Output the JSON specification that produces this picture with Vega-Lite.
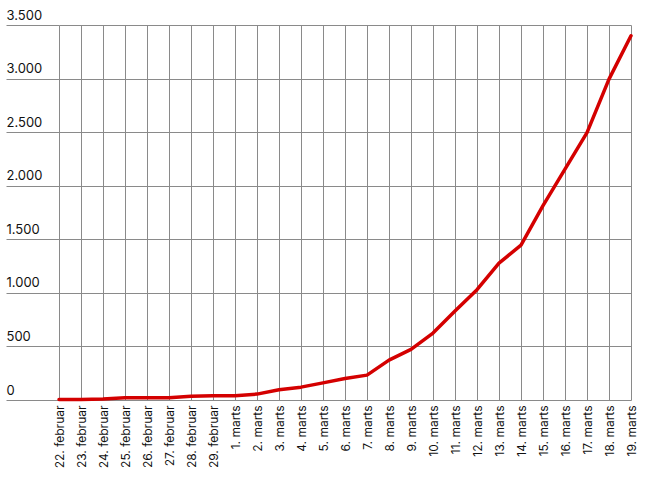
{
  "$schema": "https://vega.github.io/schema/vega-lite/v6.json",
  "width": 572,
  "height": 375,
  "padding": {"top": 9, "left": 5, "right": 5, "bottom": 5},
  "background": "white",
  "config": {
    "view": {"stroke": null},
    "font": "Inter"
  },
  "data": {
    "values": [
      {"dato": "22. februar", "antal": 5},
      {"dato": "23. februar", "antal": 5},
      {"dato": "24. februar", "antal": 10},
      {"dato": "25. februar", "antal": 20},
      {"dato": "26. februar", "antal": 20},
      {"dato": "27. februar", "antal": 20},
      {"dato": "28. februar", "antal": 35},
      {"dato": "29. februar", "antal": 40},
      {"dato": "1. marts", "antal": 40},
      {"dato": "2. marts", "antal": 55},
      {"dato": "3. marts", "antal": 95},
      {"dato": "4. marts", "antal": 120},
      {"dato": "5. marts", "antal": 160},
      {"dato": "6. marts", "antal": 200},
      {"dato": "7. marts", "antal": 232},
      {"dato": "8. marts", "antal": 372},
      {"dato": "9. marts", "antal": 472},
      {"dato": "10. marts", "antal": 625},
      {"dato": "11. marts", "antal": 830},
      {"dato": "12. marts", "antal": 1030},
      {"dato": "13. marts", "antal": 1278},
      {"dato": "14. marts", "antal": 1445},
      {"dato": "15. marts", "antal": 1815},
      {"dato": "16. marts", "antal": 2155},
      {"dato": "17. marts", "antal": 2495},
      {"dato": "18. marts", "antal": 2995},
      {"dato": "19. marts", "antal": 3400}
    ]
  },
  "mark": {"type": "line", "color": "#d40000", "strokeWidth": 3.5, "strokeJoin": "round", "strokeCap": "round"},
  "encoding": {
    "x": {
      "field": "dato",
      "type": "ordinal",
      "sort": null,
      "scale": {"type": "point", "padding": 0},
      "axis": {
        "title": null,
        "grid": true,
        "gridColor": "#8a8a8a",
        "gridOpacity": 1,
        "gridWidth": 1,
        "domain": false,
        "ticks": false,
        "labelAngle": -90,
        "labelAlign": "right",
        "labelBaseline": "middle",
        "labelPadding": 5,
        "labelFontSize": 12,
        "labelColor": "#111111",
        "labelFont": "Inter"
      }
    },
    "y": {
      "field": "antal",
      "type": "quantitative",
      "scale": {"domain": [0, 3500], "nice": false},
      "axis": {
        "title": null,
        "values": [0, 500, 1000, 1500, 2000, 2500, 3000, 3500],
        "grid": true,
        "gridColor": "#8a8a8a",
        "gridOpacity": 1,
        "gridWidth": 1,
        "domain": false,
        "ticks": true,
        "tickSize": 53,
        "tickColor": "#8a8a8a",
        "tickWidth": 1,
        "labelAlign": "left",
        "labelBaseline": "bottom",
        "labelPadding": 0,
        "labelOffset": -3,
        "labelFontSize": 13,
        "labelColor": "#111111",
        "labelFont": "Inter",
        "labelExpr": "replace(format(datum.value, ','), ',', '.')"
      }
    }
  }
}
